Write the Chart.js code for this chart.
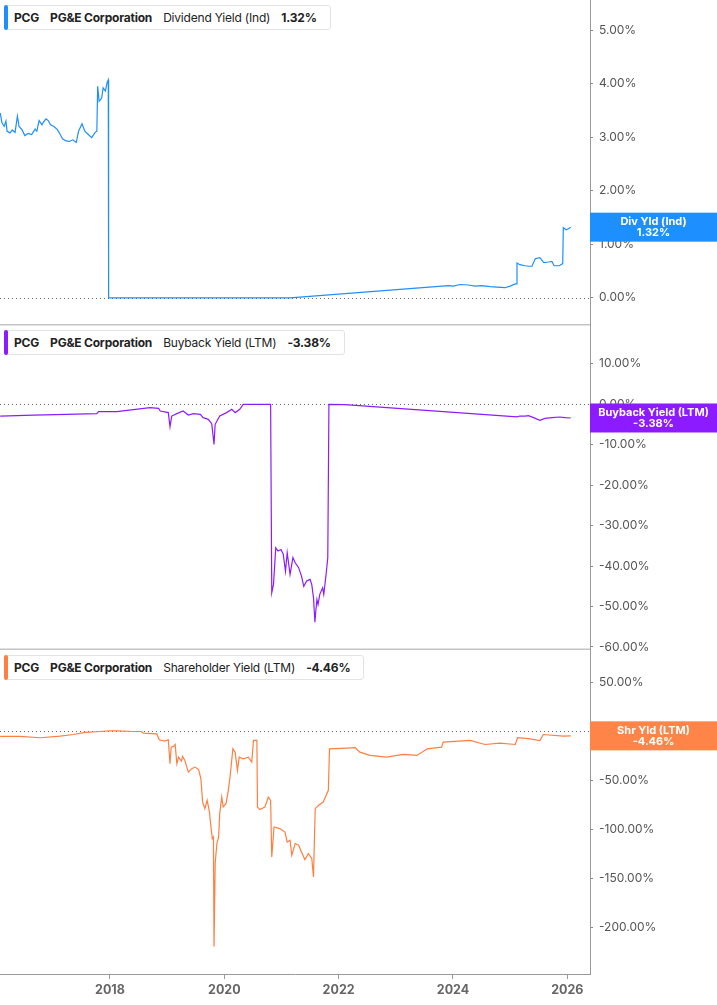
<!DOCTYPE html>
<html>
<head>
<meta charset="utf-8">
<script src="https://cdn.jsdelivr.net/npm/chart.js@4.4.1/dist/chart.umd.min.js"></script>
<style>
  html, body { margin: 0; padding: 0; background: #fff; }
  #wrap { position: relative; width: 717px; height: 1005px; }
  canvas { position: absolute; left: 0; top: 0; }
  .tag {
    position: absolute; left: 4px; height: 25px; box-sizing: border-box;
    background: #fff; border: 1px solid #e3e3e3; border-radius: 3px;
    font-family: Inter, "Noto Sans", sans-serif; font-size: 12px; color: #222;
    letter-spacing: -0.2px;
    display: flex; align-items: center; padding: 0 13px 0 9px; white-space: nowrap;
  }
  .tag .bar { position: absolute; left: -1px; top: -1px; bottom: -1px; width: 4px; border-radius: 2px; }
  .tag span { margin-right: 11px; }
  .tag span:last-child { margin-right: 0; }
  .tag .b { font-weight: 700; }
</style>
</head>
<body>
<div id="wrap">
  <canvas id="myChart" width="717" height="1005"></canvas>
  <div class="tag" style="top:5px"><div class="bar" style="background:#1e8fff"></div>
    <span class="b">PCG</span><span class="b">PG&amp;E Corporation</span><span>Dividend Yield (Ind)</span><span class="b">1.32%</span></div>
  <div class="tag" style="top:330px"><div class="bar" style="background:#8c1cff"></div>
    <span class="b">PCG</span><span class="b">PG&amp;E Corporation</span><span>Buyback Yield (LTM)</span><span class="b">-3.38%</span></div>
  <div class="tag" style="top:655px"><div class="bar" style="background:#ff7f40"></div>
    <span class="b">PCG</span><span class="b">PG&amp;E Corporation</span><span>Shareholder Yield (LTM)</span><span class="b">-4.46%</span></div>
</div>
<script>
// dividend yield (ind), % by decimal year
const divYears = [2016.08, 2016.11, 2016.15, 2016.18, 2016.20, 2016.25, 2016.29, 2016.34, 2016.38, 2016.41,
  2016.46, 2016.51, 2016.57, 2016.63, 2016.69, 2016.72, 2016.76, 2016.81, 2016.83, 2016.88,
  2016.92, 2016.96, 2017.02, 2017.08, 2017.13, 2017.17, 2017.23, 2017.29, 2017.35, 2017.41,
  2017.45, 2017.51, 2017.56, 2017.62, 2017.68, 2017.74, 2017.77, 2017.785, 2017.81, 2017.855,
  2017.88, 2017.92, 2017.95, 2017.97, 2017.976, 2021.15, 2023.92, 2024.01, 2024.12, 2024.27,
  2024.39, 2024.50, 2024.65, 2024.77, 2024.91, 2025.00, 2025.09, 2025.12, 2025.12, 2025.17,
  2025.26, 2025.32, 2025.38, 2025.44, 2025.52, 2025.59, 2025.67, 2025.73, 2025.77, 2025.86,
  2025.92, 2025.93, 2025.98, 2026.02, 2026.06];
const divValues = [3.45, 3.27, 3.20, 3.30, 3.11, 3.08, 3.13, 3.09, 3.39, 3.20,
  3.14, 3.03, 3.07, 3.05, 3.15, 3.11, 3.31, 3.23, 3.27, 3.34,
  3.31, 3.23, 3.20, 3.14, 3.05, 2.97, 2.93, 2.92, 2.95, 2.90,
  3.11, 3.25, 3.11, 3.05, 2.99, 3.09, 3.11, 3.95, 3.67, 3.73,
  3.92, 3.86, 4.02, 4.07, 0.00, 0.00, 0.23, 0.22, 0.25, 0.24,
  0.22, 0.23, 0.21, 0.20, 0.19, 0.22, 0.26, 0.26, 0.65, 0.62,
  0.60, 0.59, 0.59, 0.73, 0.75, 0.66, 0.67, 0.68, 0.60, 0.60,
  0.64, 1.31, 1.27, 1.29, 1.32];

// buyback yield (LTM)
const buyYears = [2016.08, 2016.66, 2017.24, 2017.77, 2017.80, 2018.12, 2018.41, 2018.70, 2018.85, 2018.88,
  2019.02, 2019.05, 2019.08, 2019.17, 2019.28, 2019.37, 2019.46, 2019.58, 2019.63, 2019.72,
  2019.78, 2019.82, 2019.84, 2019.92, 2020.04, 2020.13, 2020.19, 2020.27, 2020.33, 2020.81,
  2020.83, 2020.86, 2020.90, 2020.94, 2020.99, 2021.03, 2021.07, 2021.10, 2021.15, 2021.20,
  2021.24, 2021.30, 2021.35, 2021.39, 2021.44, 2021.50, 2021.53, 2021.56, 2021.585, 2021.60,
  2021.62, 2021.64, 2021.67, 2021.72, 2021.74, 2021.78, 2021.81, 2021.83, 2022.11, 2025.12,
  2025.17, 2025.26, 2025.32, 2025.41, 2025.52, 2025.61, 2025.73, 2025.87, 2025.96, 2026.06];
const buyValues = [-2.90, -2.65, -2.48, -2.30, -1.81, -1.81, -1.31, -0.82, -0.99, -1.66,
  -2.05, -5.52, -2.90, -2.30, -1.66, -2.65, -2.30, -2.48, -3.29, -3.71,
  -4.78, -9.90, -4.95, -2.90, -2.05, -1.24, -2.05, -1.24, 0.00, 0.00,
  -46.6, -44.6, -35.5, -36.3, -35.9, -37.0, -41.3, -36.7, -42.1, -37.9,
  -39.2, -40.4, -42.5, -45.0, -43.7, -43.3, -44.6, -47.8, -53.9, -51.2,
  -48.3, -49.5, -47.0, -45.4, -47.0, -42.1, -37.9, 0.00, -0.10, -3.09,
  -2.90, -2.90, -2.80, -3.29, -3.96, -3.47, -3.29, -3.14, -3.29, -3.38];

// shareholder yield (LTM)
const shrYears = [2016.08, 2016.43, 2016.78, 2017.13, 2017.36, 2017.56, 2017.83, 2018.00, 2018.12, 2018.41,
  2018.55, 2018.58, 2018.82, 2018.86, 2018.96, 2019.02, 2019.05, 2019.07, 2019.11, 2019.14,
  2019.17, 2019.20, 2019.25, 2019.27, 2019.31, 2019.37, 2019.43, 2019.49, 2019.55, 2019.59,
  2019.62, 2019.66, 2019.70, 2019.74, 2019.76, 2019.79, 2019.81, 2019.82, 2019.84, 2019.87,
  2019.90, 2019.92, 2019.955, 2019.98, 2020.03, 2020.07, 2020.10, 2020.15, 2020.19, 2020.23,
  2020.26, 2020.33, 2020.42, 2020.48, 2020.51, 2020.57, 2020.58, 2020.62, 2020.71, 2020.77,
  2020.81, 2020.83, 2020.87, 2020.97, 2021.06, 2021.10, 2021.15, 2021.18, 2021.24, 2021.30,
  2021.35, 2021.41, 2021.47, 2021.53, 2021.56, 2021.59, 2021.65, 2021.73, 2021.82, 2021.84,
  2022.14, 2022.29, 2022.37, 2022.55, 2022.84, 2023.13, 2023.37, 2023.55, 2023.80, 2023.83,
  2024.30, 2024.56, 2024.82, 2025.09, 2025.13, 2025.32, 2025.52, 2025.58, 2025.93, 2026.06];
const shrValues = [-5.1, -5.1, -6.4, -4.8, -3.1, -1.0, 0.0, 0.7, 0.7, 0.0,
  0.0, -1.7, -2.4, -8.5, -9.9, -8.5, -33.0, -16.0, -15.3, -13.3,
  -33.0, -26.2, -30.3, -25.5, -29.6, -41.5, -38.0, -36.4, -39.0, -48.3,
  -72.0, -78.9, -70.4, -82.3, -94.2, -109.5, -107.8, -220.0, -135.0, -114.6,
  -107.9, -84.0, -67.0, -77.2, -73.8, -60.2, -46.6, -17.7, -21.1, -39.8,
  -26.2, -27.9, -26.2, -31.3, -9.2, -9.2, -77.2, -79.9, -77.2, -67.0,
  -70.4, -128.3, -97.7, -99.3, -102.8, -113.0, -111.2, -126.5, -114.6, -116.3,
  -123.2, -131.0, -124.8, -129.9, -148.7, -78.9, -75.5, -72.1, -60.2, -17.7,
  -17.0, -16.6, -21.1, -24.5, -26.2, -23.5, -24.5, -17.7, -16.0, -10.9,
  -9.2, -13.3, -11.9, -13.3, -6.4, -7.4, -9.2, -3.1, -4.8, -4.46];

const yearTicks = [2018, 2020, 2022, 2024, 2026];
const divTicks = [0, 1, 2, 3, 4, 5];
const buyTicks = [10, 0, -10, -20, -30, -40, -50, -60];
const shrTicks = [50, 0, -50, -100, -150, -200];

const badges = [
  { axis: "yDiv", value: 1.32, label: "Div Yld (Ind)", color: "#1e8fff" },
  { axis: "yBuy", value: -3.38, label: "Buyback Yield (LTM)", color: "#8c1cff" },
  { axis: "yShr", value: -4.46, label: "Shr Yld (LTM)", color: "#ff8447" },
];

function toPoints(xs, ys) {
  return xs.map((x, i) => ({ x: x, y: ys[i] }));
}

function yAxis(min, max, tickVals) {
  return {
    type: "linear",
    position: "right",
    stack: "panels",
    stackWeight: 1,
    min: min,
    max: max,
    afterBuildTicks: (s) => { s.ticks = tickVals.map((v) => ({ value: v })); },
    afterFit: (s) => { s.width = 127; s.paddingTop = 0; s.paddingBottom = 0; },
    grid: { drawOnChartArea: false, drawTicks: true, tickLength: 3, color: "#888" },
    border: { display: true, color: "#9a9a9a" },
    ticks: {
      callback: (v) => v.toFixed(2) + "%",
      color: "#555",
      padding: 6,
      font: { family: "Inter", size: 12 },
    },
  };
}

// zero lines, panel separators and value badges
const overlay = {
  id: "overlay",
  beforeDatasetsDraw(chart) {
    const ctx = chart.ctx;
    const area = chart.chartArea;
    ctx.save();
    ["yDiv", "yBuy", "yShr"].forEach((id) => {
      const y = Math.round(chart.scales[id].getPixelForValue(0)) + 0.5;
      ctx.setLineDash([1, 3]);
      ctx.strokeStyle = "#666";
      ctx.lineWidth = 1;
      ctx.beginPath();
      ctx.moveTo(area.left, y);
      ctx.lineTo(area.right, y);
      ctx.stroke();
    });
    ctx.setLineDash([]);
    ctx.strokeStyle = "#c4c4c4";
    ctx.lineWidth = 1.5;
    ["yDiv", "yBuy"].forEach((id) => {
      const y = chart.scales[id].bottom;
      ctx.beginPath();
      ctx.moveTo(area.left, y);
      ctx.lineTo(area.right, y);
      ctx.stroke();
    });
    ctx.restore();
  },
  afterDraw(chart) {
    const ctx = chart.ctx;
    const left = chart.chartArea.right;
    const w = chart.width - left;
    ctx.save();
    badges.forEach((b) => {
      const cy = chart.scales[b.axis].getPixelForValue(b.value);
      ctx.fillStyle = b.color;
      ctx.fillRect(left, cy - 14.5, w, 29);
      ctx.fillStyle = "#fff";
      ctx.font = "bold 11px Inter";
      ctx.textAlign = "center";
      ctx.textBaseline = "middle";
      ctx.fillText(b.label, left + w / 2, cy - 5.5);
      ctx.fillText(b.value.toFixed(2) + "%", left + w / 2, cy + 6);
    });
    ctx.restore();
  },
};

const ctx = document.getElementById("myChart");
const chart = new Chart(ctx, {
  type: "line",
  data: {
    datasets: [
      { data: toPoints(divYears, divValues), yAxisID: "yDiv", borderColor: "#1e8fff", borderWidth: 1.2, pointRadius: 0 },
      { data: toPoints(buyYears, buyValues), yAxisID: "yBuy", borderColor: "#8c1cff", borderWidth: 1.2, pointRadius: 0 },
      { data: toPoints(shrYears, shrValues), yAxisID: "yShr", borderColor: "#ff7f40", borderWidth: 1.2, pointRadius: 0 },
    ],
  },
  options: {
    responsive: false,
    animation: false,
    layout: { padding: 0 },
    plugins: { legend: { display: false }, tooltip: { enabled: false } },
    scales: {
      x: {
        type: "linear",
        min: 2016.076,
        max: 2026.397,
        afterBuildTicks: (s) => { s.ticks = yearTicks.map((v) => ({ value: v })); },
        afterFit: (s) => { s.height = 31; s.paddingLeft = 0; s.paddingRight = 0; },
        grid: { drawOnChartArea: false, drawTicks: true, tickLength: 5, color: "#999" },
        border: { display: true, color: "#9a9a9a" },
        ticks: {
          callback: (v) => String(v),
          color: "#666",
          padding: 4,
          maxRotation: 0,
          font: { family: "Inter", size: 12.5, weight: "bold" },
        },
      },
      yDiv: yAxis(-0.5, 5.56, divTicks),
      yBuy: yAxis(-60.6, 19.7, buyTicks),
      yShr: yAxis(-248, 84, shrTicks),
    },
  },
  plugins: [overlay],
});
</script>
</body>
</html>
